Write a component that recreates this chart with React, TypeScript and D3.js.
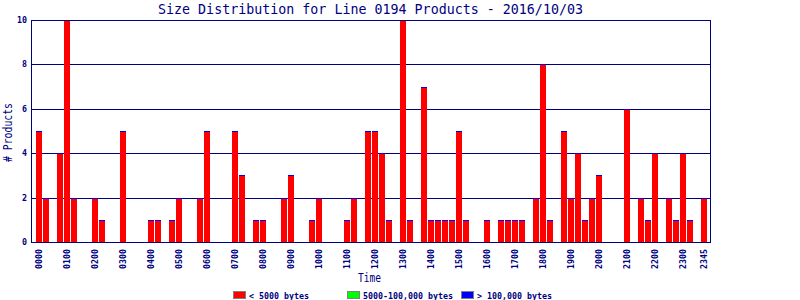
import React from "react";
import * as d3 from "d3";

const TITLE = "Size Distribution for Line 0194 Products - 2016/10/03";
const X_TITLE = "Time";
const Y_TITLE = "# Products";

// 96 quarter-hour slots, 0000 .. 2345
const slots: string[] = d3.range(96).map((i) => {
  const h = Math.floor(i / 4);
  const m = (i % 4) * 15;
  return `${String(h).padStart(2, "0")}${String(m).padStart(2, "0")}`;
});

const labeledSlots: string[] = [
  "0000", "0100", "0200", "0300", "0400", "0500", "0600", "0700", "0800", "0900",
  "1000", "1100", "1200", "1300", "1400", "1500", "1600", "1700", "1800", "1900",
  "2000", "2100", "2200", "2300", "2345",
];

const small: number[] = [
  5, 2, 0, 4, 10, 2, 0, 0, 2, 1, 0, 0, 5, 0, 0, 0,
  1, 1, 0, 1, 2, 0, 0, 2, 5, 0, 0, 0, 5, 3, 0, 1,
  1, 0, 0, 2, 3, 0, 0, 1, 2, 0, 0, 0, 1, 2, 0, 5,
  5, 4, 1, 0, 10, 1, 0, 7, 1, 1, 1, 1, 5, 1, 0, 0,
  1, 0, 1, 1, 1, 1, 0, 2, 8, 1, 0, 5, 2, 4, 1, 2,
  3, 0, 0, 0, 6, 0, 2, 1, 4, 0, 2, 1, 4, 1, 0, 2,
];
const medium: number[] = small.map(() => 0);
const large: number[] = small.map(() => 0);

const yTicks = [0, 2, 4, 6, 8, 10];

const seriesNames = ["< 5000 bytes", "5000-100,000 bytes", "> 100,000 bytes"];
const seriesColors = ["#ff0000", "#00ff00", "#0000ff"];

const NAVY = "#000080";
const FONT = "'DejaVu Sans Mono', monospace";

export default function App() {
  const W = 800, H = 300;
  const left = 31, right = 710, top = 20, bottom = 242;

  const x = d3.scaleBand<string>().domain(slots).range([36, 36 + 7 * 96]).padding(0);
  const y = d3.scaleLinear().domain([0, 10]).range([bottom, top]);

  const rows = slots.map((s, i) => ({ slot: s, a: small[i], b: medium[i], c: large[i] }));
  const stack = d3.stack<any>().keys(["a", "b", "c"]);
  const stacked = stack(rows);

  const legendX = [233, 347, 461];

  return (
    <div style={{ position: "absolute", left: 0, top: 0 }}>
      <svg width={W} height={H} style={{ display: "block", background: "#fff" }} shapeRendering="crispEdges">
        <rect x={0} y={0} width={W} height={H} fill="#fff" />
        {/* gridlines */}
        {yTicks.filter((t) => t > 0).map((t) => (
          <line key={t} x1={left} x2={right} y1={Math.round(y(t)) + 0.5} y2={Math.round(y(t)) + 0.5} stroke={NAVY} strokeWidth={1} />
        ))}
        {/* bars */}
        {rows.map((r, i) => {
          const total = r.a + r.b + r.c;
          if (total <= 0) return null;
          const bx = x(r.slot)!;
          const bw = x.bandwidth() - 1;
          const segs: React.ReactNode[] = [];
          stacked.forEach((ser, k) => {
            const [y0, y1] = ser[i];
            if (y1 - y0 > 0) {
              const yt = Math.round(y(y1));
              const yb = Math.round(y(y0));
              segs.push(<rect key={k} x={bx} y={yt} width={bw} height={yb - yt} fill={seriesColors[k]} />);
            }
          });
          // top cap of the largest-size series
          const yTop = Math.round(y(total));
          segs.push(<rect key="cap" x={bx} y={yTop} width={bw} height={1} fill={seriesColors[2]} />);
          return <g key={r.slot}>{segs}</g>;
        })}
        {/* frame */}
        <rect x={left + 0.5} y={top + 0.5} width={right - left} height={bottom - top} fill="none" stroke={NAVY} strokeWidth={1} />
        {/* y tick labels */}
        {yTicks.map((t) => (
          <text key={t} x={27} y={y(t)} textAnchor="end" dominantBaseline="central" fontFamily={FONT} fontSize={8.3} fontWeight="bold" fill={NAVY}>
            {t}
          </text>
        ))}
        {/* x tick labels */}
        {labeledSlots.map((s) => {
          const cx = x(s)! + 3;
          return (
            <text key={s} transform={`translate(${cx},249) rotate(-90)`} textAnchor="end" dominantBaseline="central" fontFamily={FONT} fontSize={8.3} fontWeight="bold" fill={NAVY}>
              {s}
            </text>
          );
        })}
        {/* title */}
        <text x={158} y={9} textLength={425} lengthAdjust="spacingAndGlyphs" dominantBaseline="central" fontFamily={FONT} fontSize={13.5} fill={NAVY}>
          {TITLE}
        </text>
        {/* axis titles */}
        <text x={358} y={278} textLength={23} lengthAdjust="spacingAndGlyphs" dominantBaseline="central" fontFamily={FONT} fontSize={12} fill={NAVY}>
          {X_TITLE}
        </text>
        <text transform="translate(8,162) rotate(-90)" textLength={59} lengthAdjust="spacingAndGlyphs" dominantBaseline="central" fontFamily={FONT} fontSize={12} fill={NAVY}>
          {Y_TITLE}
        </text>
        {/* legend */}
        {seriesNames.map((n, k) => (
          <g key={n}>
            <rect x={legendX[k] + 0.5} y={291.5} width={12} height={7} fill={seriesColors[k]} stroke="#808080" strokeWidth={1} />
            <text x={legendX[k] + 16} y={295.5} dominantBaseline="central" fontFamily={FONT} fontSize={8.3} fontWeight="bold" fill={NAVY}>
              {n}
            </text>
          </g>
        ))}
      </svg>
    </div>
  );
}
